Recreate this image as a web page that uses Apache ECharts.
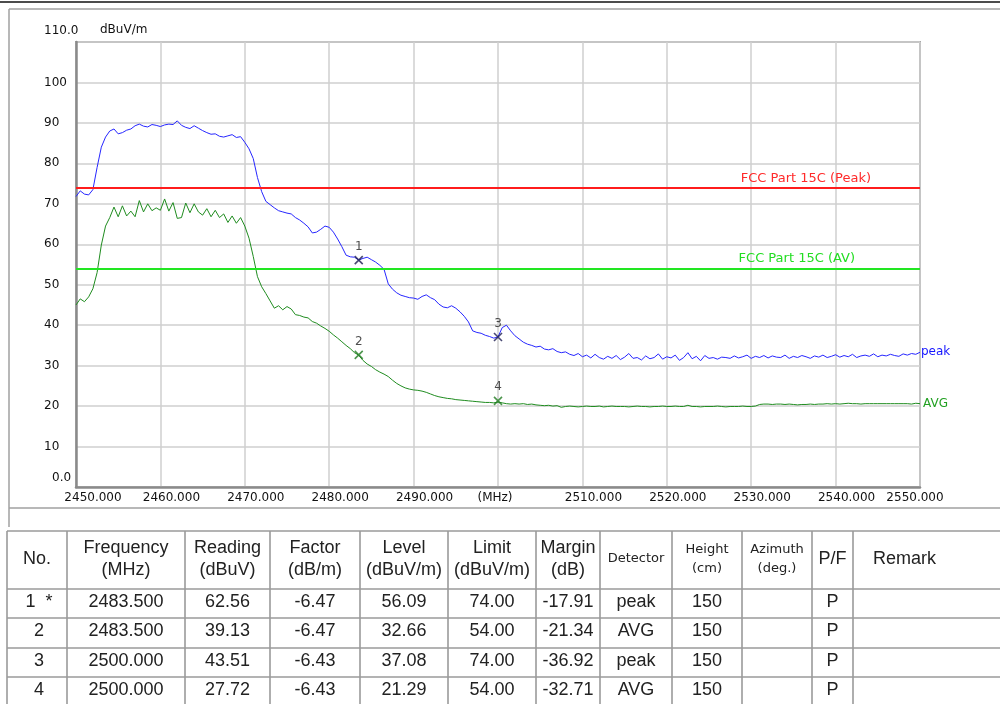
<!DOCTYPE html>
<html>
<head>
<meta charset="utf-8">
<title>Radiated emission 2450 - 2550 MHz</title>
<script src="https://cdn.jsdelivr.net/npm/echarts@6/dist/echarts.min.js"></script>
<style>
  html, body { margin: 0; padding: 0; background: #fff; }
  #chart { width: 1000px; height: 704px; }
</style>
</head>
<body>
<div id="chart"></div>
<script>
// sweep 2450 .. 2550 MHz, one reading every 0.5 MHz
const sweepStart = 2450;
const sweepStep = 0.5;

// peak detector trace (dBuV/m), 10 readings = 5 MHz per row
const peakLevels = [
    71.8, 73.2, 72.4, 72.2, 73.5, 79.0, 84.0, 86.5, 88.0, 88.5,
    87.3, 87.6, 88.2, 88.5, 89.3, 89.7, 89.2, 89.0, 89.6, 89.4,
    89.1, 89.5, 89.7, 89.6, 90.5, 89.4, 88.9, 88.6, 89.3, 88.7,
    88.1, 87.6, 87.2, 87.3, 86.7, 86.5, 86.8, 87.1, 86.4, 86.6,
    85.2, 83.6, 81.2, 76.5, 73.0, 70.6, 69.8, 69.0, 68.3, 68.0,
    67.7, 67.5, 66.6, 66.0, 65.2, 64.3, 62.8, 63.0, 63.7, 64.5,
    64.2, 63.0, 61.3, 59.4, 57.3, 56.9, 56.8, 56.1, 56.5, 56.8,
    56.2, 55.6, 54.8, 53.8, 50.2, 48.9, 48.0, 47.4, 47.1, 46.8,
    46.7, 46.4, 47.1, 47.5, 46.8, 46.3, 45.2, 44.5, 44.3, 44.8,
    44.2, 43.3, 42.2, 40.8, 38.6, 38.2, 38.0, 37.5, 37.2, 36.8,
    37.1, 39.4, 40.0, 38.6, 37.4, 36.6, 35.8, 35.3, 35.0, 34.6,
    34.8, 34.1, 33.9, 34.2, 33.5, 33.2, 33.4, 32.8, 32.5, 33.0,
    32.2, 32.6, 31.9, 32.8, 32.0, 31.6, 32.3, 31.8, 32.5, 31.5,
    32.1, 33.0, 31.8, 32.0, 31.4, 32.4, 31.7, 32.0, 32.9, 31.6,
    32.2, 31.9, 32.6, 31.3, 32.0, 33.2, 31.7, 32.3, 31.2, 32.5,
    31.8, 32.0, 31.6, 32.1, 32.0, 31.8, 32.4, 31.9, 32.2, 32.6,
    31.8, 32.3, 32.0, 32.5, 31.9, 32.4, 32.1, 32.0, 32.6, 31.8,
    32.3, 32.0, 32.5, 32.2, 31.8, 32.4, 32.1, 32.6, 32.0, 32.3,
    32.7, 32.1, 32.5, 32.2, 32.8, 32.0, 32.4, 32.6, 32.3, 32.9,
    32.2, 32.6, 32.4, 32.8, 32.5, 32.3, 32.9, 32.6, 33.0, 32.8,
    33.3
];

// average detector trace (dBuV/m)
const avgLevels = [
    45.0, 46.5, 45.8, 47.0, 49.0, 53.0, 59.8, 64.5, 66.6, 69.2,
    66.8, 69.5, 67.0, 68.2, 66.8, 70.8, 68.0, 70.0, 68.3, 69.0,
    68.4, 71.2, 68.2, 70.3, 66.4, 66.6, 70.2, 67.8, 70.0, 68.0,
    67.2, 68.8, 66.8, 68.4, 66.6, 67.5, 65.4, 67.0, 65.2, 66.6,
    64.5, 61.5, 57.0, 52.0, 49.5, 47.8, 46.0, 44.2, 44.8, 43.8,
    44.6, 44.0, 42.6, 42.4, 42.0, 41.8, 40.9, 40.5, 39.8, 39.2,
    38.5, 37.6, 36.8, 35.9, 35.0, 34.2, 33.2, 32.6, 31.3, 30.4,
    29.8, 29.0, 28.4, 27.9, 27.3, 26.4, 25.6, 25.0, 24.5, 24.2,
    24.0, 23.9, 23.7, 23.4, 23.0, 22.6, 22.3, 22.1, 21.9, 21.8,
    21.6, 21.5, 21.4, 21.3, 21.2, 21.1, 21.0, 20.9, 20.9, 20.8,
    21.0, 20.8, 20.6, 20.5, 20.6, 20.5, 20.6, 20.4, 20.5, 20.3,
    20.2, 20.1, 20.2, 20.0, 20.1, 19.7, 19.9, 20.0, 19.9, 19.8,
    19.9, 20.0, 19.9, 19.9, 20.0, 19.8, 19.9, 20.0, 19.9, 19.9,
    19.9, 19.8, 19.9, 20.0, 19.9, 19.9, 19.8, 19.9, 19.9, 20.0,
    19.9, 19.9, 20.0, 19.9, 19.9, 20.2, 19.9, 19.9, 19.8, 19.9,
    19.9, 19.9, 20.0, 19.9, 19.8, 19.9, 19.9, 19.9, 20.0, 19.9,
    19.9, 20.0, 20.4, 20.5, 20.5, 20.4, 20.5, 20.5, 20.4, 20.5,
    20.4, 20.3, 20.4, 20.4, 20.5, 20.4, 20.5, 20.5, 20.6, 20.5,
    20.6, 20.5, 20.6, 20.7, 20.6, 20.6, 20.5, 20.6, 20.6, 20.6,
    20.6, 20.6, 20.6, 20.6, 20.6, 20.6, 20.6, 20.6, 20.5, 20.7,
    20.6
];

const limitNames = ['FCC Part 15C (Peak)', 'FCC Part 15C (AV)'];
const limitValues = [74, 54];

// measurement table / markers
const markerNo = ['1  *', '2', '3', '4'];
const markerLabel = ['1', '2', '3', '4'];
const markerFreq = ['2483.500', '2483.500', '2500.000', '2500.000'];
const markerReading = ['62.56', '39.13', '43.51', '27.72'];
const markerFactor = ['-6.47', '-6.47', '-6.43', '-6.43'];
const markerLevel = [56.09, 32.66, 37.08, 21.29];
const markerLimit = ['74.00', '54.00', '74.00', '54.00'];
const markerMargin = ['-17.91', '-21.34', '-36.92', '-32.71'];
const markerDetector = ['peak', 'AVG', 'peak', 'AVG'];
const markerHeight = ['150', '150', '150', '150'];
const markerAzimuth = ['', '', '', ''];
const markerPF = ['P', 'P', 'P', 'P'];
const markerRemark = ['', '', '', ''];

const tableHeaders = ['No.', 'Frequency\n(MHz)', 'Reading\n(dBuV)', 'Factor\n(dB/m)', 'Level\n(dBuV/m)',
    'Limit\n(dBuV/m)', 'Margin\n(dB)', 'Detector', 'Height\n(cm)', 'Azimuth\n(deg.)', 'P/F', 'Remark'];

const PEAK_COLOR = '#2626ff';
const AVG_COLOR = '#1f8c1f';
const TICK_FONT = '"DejaVu Sans", sans-serif';
const TABLE_FONT = '"Liberation Sans", Arial, sans-serif';

const peakData = peakLevels.map((v, i) => [sweepStart + i * sweepStep, v]);
const avgData = avgLevels.map((v, i) => [sweepStart + i * sweepStep, v]);

const markerData = markerLevel.map((lvl, i) => ({
    name: markerLabel[i],
    value: [parseFloat(markerFreq[i]), lvl],
    itemStyle: { borderColor: markerDetector[i] === 'peak' ? '#1c1c50' : '#1f7a1f' }
}));

// table lines and texts
const colEdges = [7, 67, 185, 270, 360, 448, 536, 600, 672, 742, 812, 853, 1001];
const rowEdges = [531, 589, 618, 648, 677, 706];
const rowCenters = [602, 631, 661, 690];
const smallHeader = [7, 8, 9];

function buildTable() {
    const items = [];
    const lineStyle = { stroke: '#9a9a9a', lineWidth: 1.6 };
    rowEdges.forEach(y => {
        items.push({ type: 'line', silent: true, shape: { x1: colEdges[0], y1: y, x2: 1000, y2: y }, style: lineStyle });
    });
    colEdges.forEach(x => {
        items.push({ type: 'line', silent: true, shape: { x1: x, y1: rowEdges[0], x2: x, y2: 704 }, style: lineStyle });
    });

    const columns = [markerNo, markerFreq, markerReading, markerFactor, markerLevel.map(v => v.toFixed(2)),
        markerLimit, markerMargin, markerDetector, markerHeight, markerAzimuth, markerPF, markerRemark];

    tableHeaders.forEach((h, c) => {
        const cx = (colEdges[c] + colEdges[c + 1]) / 2;
        const small = smallHeader.indexOf(c) >= 0;
        const isRemark = c === tableHeaders.length - 1;
        items.push({
            type: 'text', silent: true,
            x: isRemark ? 873 : cx, y: 559,
            style: {
                text: h, fill: '#222',
                font: small ? '13px "DejaVu Sans", sans-serif' : '18px ' + TABLE_FONT,
                align: isRemark ? 'left' : 'center', verticalAlign: 'middle',
                lineHeight: small ? 19 : 22
            }
        });
        columns[c].forEach((txt, r) => {
            if (!txt) return;
            items.push({
                type: 'text', silent: true,
                x: c === 0 ? cx + 2 : cx, y: rowCenters[r],
                style: { text: txt, fill: '#222', font: '18px ' + TABLE_FONT, align: 'center', verticalAlign: 'middle' }
            });
        });
    });
    return items;
}

const frameLines = [
    { type: 'line', silent: true, shape: { x1: 0, y1: 2, x2: 1000, y2: 2 }, style: { stroke: '#111', lineWidth: 1.5 } },
    { type: 'line', silent: true, shape: { x1: 9, y1: 9, x2: 1000, y2: 9 }, style: { stroke: '#a0a0a0', lineWidth: 1.5 } },
    { type: 'line', silent: true, shape: { x1: 9, y1: 9, x2: 9, y2: 527 }, style: { stroke: '#a0a0a0', lineWidth: 1.5 } },
    { type: 'line', silent: true, shape: { x1: 9, y1: 508, x2: 1000, y2: 508 }, style: { stroke: '#a0a0a0', lineWidth: 1.5 } }
];

function xLabel(v) {
    if (v === 2500) return '{unit|(MHz)}';
    if (v === sweepStart) return '{first|' + v.toFixed(3) + '}';
    if (v === 2550) return '{last|' + v.toFixed(3) + '}';
    return '{n|' + v.toFixed(3) + '}';
}

function yLabel(v) {
    if (v === 110) return '{top|110.0}';
    if (v === 0) return '{zero|0.0}';
    return '{n|' + v + '}';
}

const tickText = { fontSize: 12, fontFamily: TICK_FONT, color: '#111' };

const chart = echarts.init(document.getElementById('chart'));

const option = {
    animation: false,
    backgroundColor: '#fff',
    grid: { left: 76, right: 80, top: 42, bottom: 217, show: true, borderColor: '#a8a8a8', borderWidth: 2 },
    xAxis: {
        type: 'value', min: sweepStart, max: 2550, interval: 10,
        axisLine: { show: true, onZero: false, lineStyle: { color: '#8a8a8a', width: 2.5 } },
        axisTick: { show: false },
        splitLine: { show: true, lineStyle: { color: '#cfcfcf', width: 1.5 } },
        axisLabel: {
            margin: 5, formatter: xLabel,
            rich: {
                n: Object.assign({ padding: [0, 0, 0, 22] }, tickText),
                first: Object.assign({ padding: [0, 0, 0, 34] }, tickText),
                last: Object.assign({ padding: [0, 10, 0, 0] }, tickText),
                unit: Object.assign({ padding: [0, 6, 0, 0] }, tickText)
            }
        }
    },
    yAxis: {
        type: 'value', min: 0, max: 110, interval: 10,
        name: 'dBuV/m', nameLocation: 'end', nameGap: 6,
        nameTextStyle: { fontSize: 12, fontFamily: TICK_FONT, color: '#111', align: 'left', verticalAlign: 'bottom', padding: [0, 0, 0, 24] },
        axisLine: { show: true, lineStyle: { color: '#8a8a8a', width: 2.5 } },
        axisTick: { show: false },
        splitLine: { show: true, lineStyle: { color: '#cfcfcf', width: 1.5 } },
        axisLabel: {
            margin: 32, align: 'left', formatter: yLabel,
            rich: {
                n: Object.assign({}, tickText),
                top: Object.assign({ padding: [0, 0, 22, 0] }, tickText),
                zero: Object.assign({ padding: [0, 0, 18, 8] }, tickText)
            }
        }
    },
    series: [
        {
            name: 'peak', type: 'line', data: peakData, showSymbol: false, symbol: 'none',
            lineStyle: { color: PEAK_COLOR, width: 1 }, itemStyle: { color: PEAK_COLOR },
            endLabel: { show: true, formatter: 'peak', color: '#1515ff', fontSize: 12, fontFamily: TICK_FONT, distance: 1 },
            markLine: {
                silent: true, symbol: 'none',
                data: [{ yAxis: limitValues[0] }],
                lineStyle: { color: '#ff1c1c', width: 2, type: 'solid' },
                label: { position: 'insideEndTop', formatter: limitNames[0], color: '#ff2a2a', fontSize: 13, fontFamily: TICK_FONT, padding: [0, 46, 0, 0], distance: 3 }
            }
        },
        {
            name: 'AVG', type: 'line', data: avgData, showSymbol: false, symbol: 'none',
            lineStyle: { color: AVG_COLOR, width: 1 }, itemStyle: { color: AVG_COLOR },
            endLabel: { show: true, formatter: 'AVG', color: '#22a022', fontSize: 12, fontFamily: TICK_FONT, distance: 3 },
            markLine: {
                silent: true, symbol: 'none',
                data: [{ yAxis: limitValues[1] }],
                lineStyle: { color: '#22e622', width: 2, type: 'solid' },
                label: { position: 'insideEndTop', formatter: limitNames[1], color: '#22dd22', fontSize: 13, fontFamily: TICK_FONT, padding: [0, 62, 0, 0], distance: 3 }
            }
        },
        {
            name: 'markers', type: 'scatter', data: markerData, z: 5,
            symbol: 'path://M0,0L8,8M8,0L0,8', symbolSize: 8,
            itemStyle: { color: 'none', borderWidth: 1.6 },
            label: { show: true, position: 'top', distance: 1, formatter: '{b}', color: '#222', fontSize: 12, fontFamily: TICK_FONT }
        }
    ],
    graphic: frameLines.concat(buildTable())
};

chart.setOption(option);
</script>
</body>
</html>
